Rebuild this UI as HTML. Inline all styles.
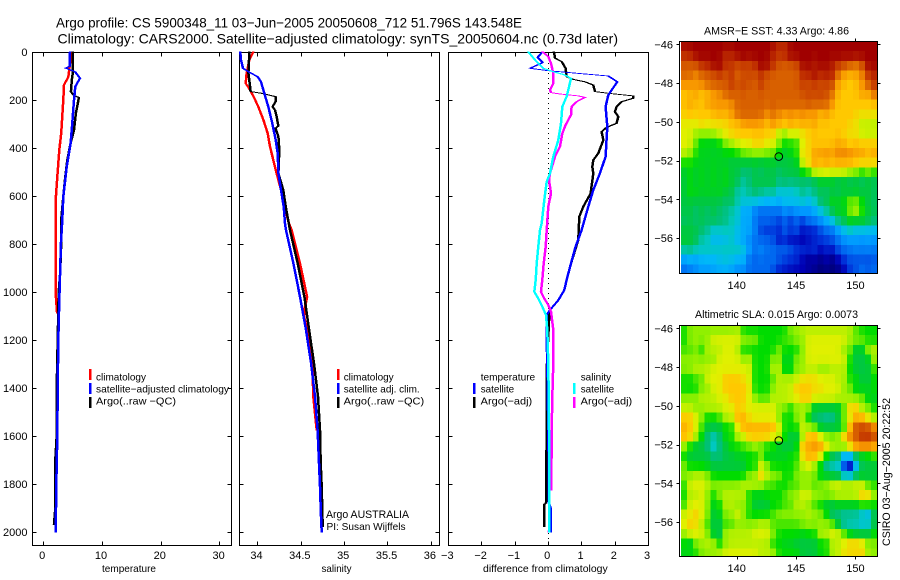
<!DOCTYPE html>
<html>
<head>
<meta charset="utf-8">
<title>Argo profile chart</title>
<style>
html,body{margin:0;padding:0;background:#fff;}
#chart{display:block;width:900px;height:580px;}
text{font-family:"Liberation Sans",sans-serif;fill:#000;}
</style>
</head>
<body>
<svg id="chart" xmlns="http://www.w3.org/2000/svg" width="900" height="580" viewBox="0 0 900 580">
<rect x="0" y="0" width="900" height="580" fill="#fff"/>
<text x="56" y="27.7" font-size="14" textLength="466" lengthAdjust="spacingAndGlyphs">Argo profile: CS 5900348_11 03−Jun−2005 20050608_712 51.796S 143.548E</text>
<text x="57.5" y="43.3" font-size="14" textLength="560.5" lengthAdjust="spacingAndGlyphs">Climatology: CARS2000. Satellite−adjusted climatology: synTS_20050604.nc (0.73d later)</text>
<text x="704" y="34.5" font-size="11" textLength="145" lengthAdjust="spacingAndGlyphs">AMSR−E SST: 4.33 Argo: 4.86</text>
<text x="695" y="318" font-size="11" textLength="163" lengthAdjust="spacingAndGlyphs">Altimetric SLA: 0.015 Argo: 0.0073</text>
<text transform="translate(890,546) rotate(-90)" font-size="11" textLength="148" lengthAdjust="spacingAndGlyphs">CSIRO 03−Aug−2005 20:22:52</text>
<text x="326" y="518" font-size="11" textLength="83" lengthAdjust="spacingAndGlyphs">Argo AUSTRALIA</text>
<text x="326.5" y="530" font-size="10.5" textLength="79" lengthAdjust="spacingAndGlyphs">PI: Susan Wijffels</text>
</svg>
<script>
// ---- axis tick data ----
const depthTicks = [0,200,400,600,800,1000,1200,1400,1600,1800,2000];
const tempTicks = [0,10,20,30];
const salTicks = [34,34.5,35,35.5,36];
const salTickLabels = ['34','34.5','35','35.5','36'];
const diffTicks = [-3,-2,-1,0,1,2,3];
const lonTicks = [140,145,150];
const latTicks = [-46,-48,-50,-52,-54,-56];

// ---- temperature panel ----
const tempClimDepth = [0,47,104,137,200,339,408,520,603,690,1020,1088];
const tempClimValue = [4.9,4.6,4.3,3.57,3.45,3.1,2.77,2.43,2.2,2.2,2.2,2.4];
const tempSatDepth = [0,60,67,82,109,144,200,311,380,479,603,700,800,1033,1200,1400,1600,1800,2000];
const tempSatValue = [4.6,4.5,3.86,5.44,6.3,5.5,5.27,4.93,4.7,4.03,3.45,3.28,3.05,2.77,2.6,2.5,2.44,2.27,2.16];
const tempArgoDepth = [0,90,117,165,180,190,255,325,380,450,520,603,700,800,925,1000,1200,1400,1600,1700,1900,1970];
const tempArgoValue = [5.05,5.05,4.9,4.75,5.2,6.1,5.6,5.27,4.7,4.13,3.8,3.45,3.1,3.1,2.9,2.67,2.5,2.33,2.33,2.1,2.1,1.87];

// ---- salinity panel ----
const salClimDepth = [0,33,89,131,158,193,228,283,339,394,450,506,533,575,644,714,742,881,1020,1049,1075,1103,1158,1297,1436,1575];
const salClimValue = [33.954,33.908,33.877,33.866,33.916,33.966,34.012,34.07,34.12,34.147,34.185,34.223,34.243,34.273,34.312,34.366,34.397,34.493,34.574,34.558,34.539,34.54,34.577,34.635,34.646,34.685];
const salSatDepth = [0,33,68,82,103,124,172,228,297,367,422,506,575,644,714,742,881,1020,1158,1297,1436,1575,1714,1811,1936,2000];
const salSatValue = [33.804,33.812,33.835,33.897,34.004,34.043,34.081,34.127,34.173,34.212,34.235,34.243,34.273,34.304,34.32,34.331,34.416,34.493,34.562,34.62,34.666,34.696,34.712,34.723,34.735,34.743];
const salArgoDepth = [0,33,89,131,165,172,186,207,228,242,269,308,318,353,408,506,575,644,742,881,1020,1158,1297,1436,1575,1714,1811,1978];
const salArgoValue = [33.904,33.904,33.897,33.912,33.923,34.05,34.21,34.21,34.177,34.204,34.223,34.243,34.21,34.243,34.254,34.243,34.30,34.327,34.377,34.466,34.543,34.597,34.654,34.70,34.723,34.731,34.743,34.754];

// ---- difference panel ----
const diffTempSatDepth = [0,22,44,68,78,89,100,124,179,228,311,436,506,575,644,742,811,881,950,992,1034,1075,1096,1200,1297,1575,1880,1900,2000];
const diffTempSatValue = [-0.17,-0.31,-0.16,-0.54,0.01,0.91,1.81,2.08,1.81,1.73,1.78,1.73,1.56,1.36,1.21,1.01,0.83,0.69,0.56,0.49,0.31,0.06,-0.04,-0.04,-0.02,0.01,0.03,0.08,0.08];
const diffTempArgoDepth = [0,26,40,68,103,114,124,138,165,172,183,193,207,228,249,269,297,314,332,367,422,450,478,506,589,644,686,783,881,950,992,1034,1075,1096,1297,1575,1880,1885,1978];
const diffTempArgoValue = [0.18,0.21,0.41,0.53,0.56,0.76,1.11,1.36,1.41,1.81,2.56,2.56,2.21,2.06,2.01,2.11,2.06,1.76,1.61,1.66,1.51,1.36,1.33,1.36,1.28,1.06,0.94,0.91,0.69,0.56,0.49,0.31,0.06,0.04,-0.03,-0.04,-0.06,-0.11,-0.11];
const diffSalArgoDepth = [0,19,47,89,131,158,169,175,183,189,207,228,262,304,339,394,436,506,533,589,644,742,811,881,950,999,1027,1054,1082,1158,1297,1436,1575,1825,1826,2000];
const diffSalArgoValue = [-0.16,0.01,0.09,0.16,0.16,0.06,0.09,0.36,0.91,1.11,0.86,0.71,0.69,0.53,0.43,0.36,0.21,0.06,0.03,0.09,0.01,-0.04,-0.07,-0.13,-0.17,-0.21,-0.11,0.01,0.09,0.16,0.16,0.13,0.11,0.10,0.04,0.03];
const diffSalSatDepth = [0,33,68,82,96,110,158,186,228,297,367,436,506,540,617,714,742,811,881,950,999,1027,1061,1096,1158,1297,1436,1575,2000];
const diffSalSatValue = [-0.59,-0.39,-0.14,0.16,0.51,0.69,0.61,0.56,0.43,0.39,0.31,0.16,0.06,-0.04,-0.11,-0.19,-0.24,-0.29,-0.34,-0.37,-0.41,-0.29,-0.17,-0.06,-0.02,0.01,0.02,0.03,0.04];

// ---- maps ----
const sstFloat = [143.548,-51.796];
const sstGrid = [
[16,16,16,16,16,16,16,16,16,16,16,16,16,16,16,16,15,15,16,16,16,16,16,16,16,16,16,16,16,16,16,16,16],
[15,15,16,16,16,16,16,15,15,16,16,16,16,16,16,15,15,15,16,16,16,16,16,16,16,16,16,16,16,16,16,16,16],
[14,14,14,15,15,16,16,15,15,14,15,14,15,16,16,15,14,14,14,14,16,16,15,16,16,15,15,14,14,13,14,16,16],
[14,14,13,14,14,14,15,14,15,14,14,15,14,15,14,14,14,14,14,14,15,15,16,15,15,16,13,13,12,13,13,15,15],
[13,13,13,13,14,14,14,14,15,14,15,14,14,15,14,14,14,14,14,14,15,14,15,14,15,14,13,12,12,12,13,14,15],
[12,12,13,12,12,13,13,14,14,14,14,14,14,14,14,14,14,14,14,14,14,15,14,15,14,14,12,12,12,12,13,12,14],
[12,13,12,12,13,13,13,13,13,14,14,14,14,14,14,14,14,14,14,14,14,14,14,14,14,13,12,12,12,12,12,12,12],
[12,12,12,12,12,12,13,12,13,14,14,14,14,14,13,14,13,13,13,13,13,13,13,12,13,12,12,12,12,12,11,12,11],
[11,11,11,12,11,12,11,12,12,12,13,13,13,13,12,13,13,12,13,12,13,12,13,12,12,12,12,12,12,11,11,10,11],
[11,11,10,10,10,10,11,11,12,12,12,12,12,12,12,12,10,10,11,11,11,12,12,12,12,12,12,12,11,12,10,11,10],
[11,11,10,8,9,8,9,10,10,11,11,11,12,12,11,11,10,9,9,9,11,12,12,12,12,12,13,12,12,12,12,12,12],
[11,10,9,9,8,9,8,9,9,9,10,10,10,10,10,10,9,8,9,9,12,11,13,13,13,13,13,14,13,13,13,12,13],
[9,9,9,8,9,8,9,8,8,8,8,8,8,8,8,8,8,8,8,8,11,12,13,12,13,12,13,12,13,12,12,12,12],
[8,9,8,9,8,9,8,9,8,8,7,7,8,7,8,8,7,8,8,8,9,9,11,11,11,11,11,11,10,10,9,10,9],
[8,9,8,9,8,9,8,9,8,8,6,7,8,8,8,8,7,7,7,7,7,7,7,8,8,8,7,8,7,8,7,8,7],
[8,9,9,8,9,8,9,8,8,6,6,7,7,7,6,7,5,6,5,6,7,6,7,8,7,8,8,8,8,8,8,8,8],
[8,8,8,8,8,8,8,7,8,6,6,5,6,5,5,5,5,5,6,5,6,5,6,7,8,9,8,9,10,10,9,8,7],
[8,8,7,8,7,8,7,7,6,6,4,5,3,3,3,3,3,4,3,4,4,4,4,6,6,8,9,8,10,11,9,8,8],
[7,8,7,8,7,8,7,7,6,6,4,5,3,3,3,3,2,3,2,3,2,3,4,3,5,5,7,8,9,8,9,8,7],
[8,8,8,7,7,5,6,6,6,5,5,4,4,2,2,2,2,3,2,3,1,2,1,3,3,3,4,5,6,5,5,5,5],
[9,8,8,6,6,5,5,5,6,5,4,4,3,3,3,3,1,2,1,1,1,1,2,2,2,3,3,4,4,4,4,4,4],
[6,7,6,6,6,6,6,6,6,6,6,4,3,4,3,3,3,3,3,2,2,2,2,1,2,1,3,3,3,4,3,4,3],
[4,5,4,5,5,5,5,6,5,5,5,3,3,3,3,3,3,2,2,2,1,0,1,0,1,0,1,2,3,2,3,2,3],
[3,3,4,4,4,4,5,4,5,3,4,3,3,3,3,3,1,2,1,1,1,1,0,0,0,0,0,1,2,3,3,3,3]
];
const slaGrid = [
[9,10,10,10,10,10,10,10,10,10.5,9,9,9,9,9,9,9,9,10,10,10.5,10.5,10.5,10.5,10.5,10.5,10.5,10.5,10.5,9.5,9,9,9],
[9,10,10,10,10,11,11,11,11,11,10,10,10,9,9,9,9,9.5,9.5,10,10,11,11,11,11,11,11,11,10,10,10,9,9],
[9.5,9.5,10,9,10.5,10.5,10.5,11,11,10.5,9,9,9,9,9,9,10,9,9,9,10,11,11,11,11,11,11,10,10,8,8,10.5,10.5],
[10,10,10,10,10,10,11,11,11,11,10,10.5,9,9,9,10,10,8.5,8.5,10,10,11,11,11,11,11,11,11,9,8,8,8,10.5],
[10,10,10.5,10.5,10.5,11,11,11,11,11,11,11,9,9,9,10.5,10.5,8.5,8.5,10,10,10.5,10.5,10,10,10.5,10.5,10.5,9,8,8,8,9.5],
[9,9,9.5,9.5,11,11,11,12,12,12,11.5,11,9,9,9,9.5,10.5,10.5,10.5,10.5,11.5,11.5,11.5,11,11,11,10.5,10.5,9,9,8,8,9],
[9,9,9,10,10,11,11,12,12,12,12,11.5,9,9,9,10,10.5,10.5,10.5,12,12,12,11.5,11.5,11,11,11,10,10,8.5,8.5,8.5,9],
[10,10,10,10.5,10.5,10.5,11,11,12,12,12,11,10,9.5,9.5,10.5,10.5,10.5,11,11,12,12,11,11,11,11,10.5,10.5,10,10,10,8.5,8.5],
[10.5,10.5,10,10,10.5,10.5,10.5,11,11,12,11.5,11,11,11,11,11,10,10,9,10,10,10,8,8,8,8,8,9.5,12,12,10,10,9],
[12,12,11,10,9,9,9.5,10.5,10.5,12.5,12.5,11.5,11,11,11,11,10,9,9,10,10.5,9,7,7,6.5,6.5,8,10,11,12.5,12.5,11,10],
[12.5,12,11,9.5,8,8,8,9,9,11,12.5,12.5,12.5,12.5,12.5,12.5,11,9,9,9,11,10,10,8,8,8,8,9,12.5,14.5,14.5,14.5,13.5],
[12.5,12,10.5,9,7,6,7,9,9,10.5,10.5,12,12,12,12,11,11,9,8,8,10,12.5,12.5,11,10,10,10,12,13.5,14,15,15,14.5],
[10,9,8,8,7,5.5,7,8,9,9,9.5,9.5,10,9.5,9,9,8,8,8,8.5,12.5,12.5,13,13,11.5,10.5,10.5,10.5,12,13.5,13.5,13.5,13],
[9,8,8,8,8,7,7,8,8,8.5,8.5,9,9,10,8.5,8.5,8.5,8.5,9,9,11.5,12.5,12.5,11,9,7.5,7,4.5,4.5,7,8,8.5,9],
[10,9,9,9,8.5,8,8,8,8,8,8,9,9,11,10,9,9,9,9,9.5,10.5,11,10,9,6,6,6,2,0,5,8,8,8],
[10,10,10.5,10.5,10,9,9,9,9,9,9,10,10,12,10.5,10,10,9,9,10,10,10,10,8.5,8.5,8,8,5.5,5.5,7.5,8,8,8],
[9,11,11,11,10.5,10,10,10,10,10,10.5,10.5,10.5,10,9.5,9.5,9,9,9.5,9.5,10,10,9.5,10,10,11,11,11,11,11,11,9.5,9.5],
[9,10.5,10.5,11,10,9,10,10.5,10.5,10.5,10.5,9,8.5,8.5,9,9,9,9.5,10,10,11,11,10,10,10,10,10.5,10.5,10.5,10.5,12,12,10],
[9,11,11,11,10,8.5,9,10.5,10.5,10,10,9.5,8,8,8,9,9,9.5,9.5,10.5,10.5,10,9.5,9,8,8,8.5,8.5,8.5,8.5,9.5,9.5,9],
[11,11,12,11,10,8,8.5,10,10,11,10,9,9,9,9,9.5,10,10,10,10,10,10.5,10,10,9,7,7,6.5,6.5,6.5,5.5,4.5,8],
[11,12,11.5,10.5,9.5,8,8,9.5,9.5,10,10,10,10,10.5,10.5,9.5,9.5,9.5,9.5,9.5,10,10,10,10,10,10,8,6,6,6,5.5,5.5,8],
[10,11,11,11,10,8,7.5,10.5,10.5,10.5,10.5,10.5,11,11,11,10,9,9,9,9,8.5,9,9,10.5,10.5,11,11,10,8.5,8,8,8,9],
[9,8,10,10,10.5,10.5,9,10,10.5,10.5,10.5,10.5,10.5,10.5,10.5,9,9,8.5,8.5,8,8,8,8,9,9,10.5,10.5,11,12,12,11.5,10,10],
[8.5,9,9,10,10,10,10.5,11,11,11,11,11,11,10.5,10.5,10.5,9,9,9,9,8,8,8,9,9,10.5,10.5,11.5,11.5,11.5,12,10,10]
];
const colourStops = ['#000080','#0000b4','#0030d8','#0068f0','#0098ff','#00b8f8','#00c8c0','#00c078','#00c840','#00dc00','#90f000','#e0f000','#ffc800','#f89800','#d86000','#c03000','#a00000'];

const svg = document.getElementById('chart');
const NS = 'http://www.w3.org/2000/svg';
const BLUE='#0000ff', RED='#ff0000', BLACK='#000000', CYAN='#00ffff', MAGENTA='#ff00ff';

function make(tag, attrs, parent) {
  const e = document.createElementNS(NS, tag);
  for (const k in attrs) e.setAttribute(k, attrs[k]);
  (parent || svg).appendChild(e);
  return e;
}
function label(str, x, y, anchor, size, name, width) {
  const attrs = {x:x, y:y, 'font-size':size, 'text-anchor':anchor};
  if (width) { attrs.textLength = width; attrs.lengthAdjust = 'spacingAndGlyphs'; }
  const el = make('text', attrs);
  el.textContent = str;
  
  
  return el;
}
function fmtTick(v) { return String(v).replace('-', '\u2212'); }

const depthY = d => 52 + 0.24 * d;
const tempX = v => 43 + 5.88 * v;
const salX = v => 257.3 + 86.7 * (v - 34);
const diffX = v => 548 + 33.3 * v;
const lonX = v => 736.7 + 11.87 * (v - 140);

// profile lines use a horizontal pen: near-vertical runs are thick, near-horizontal runs are thin
function profile(depths, values, xFn, colour, name) {
  const half = 0.9;
  const fwd = depths.map((d, i) => (xFn(values[i]) - half).toFixed(1) + ',' + depthY(d).toFixed(1));
  const back = depths.map((d, i) => (xFn(values[i]) + half).toFixed(1) + ',' + depthY(d).toFixed(1)).reverse();
  const el = make('polygon', {points:fwd.concat(back).join(' '), fill:colour, stroke:colour, 'stroke-width':0.7, 'shape-rendering':'crispEdges'});
  
  
}
function tick(x1, y1, x2, y2, name) {
  const el = make('line', {x1:x1, y1:y1, x2:x2, y2:y2, stroke:'#000', 'stroke-width':1, 'shape-rendering':'crispEdges'});
  
  
}
function frame(l, t, r, b, name) {
  const el = make('rect', {x:l, y:t, width:r - l, height:b - t, fill:'none', stroke:'#000', 'stroke-width':1, 'shape-rendering':'crispEdges'});
  
  
}
function legendKey(x, y, colour, name) {
  const el = make('rect', {x:x - 1, y:y, width:2.4, height:11, fill:colour, 'shape-rendering':'crispEdges'});
  
  
}
function panelAxes(l, r, xFn, xTicks, xLabels, prefix, showDepth) {
  const t = 52.5, b = 545.5;
  frame(l, t, r, b, prefix + '-frame');
  depthTicks.forEach(d => {
    const y = Math.round(depthY(d)) + 0.5;
    if (d > 0) {
      tick(l, y, l + 4, y, prefix + '-depth-tick');
      tick(r - 4, y, r, y, prefix + '-depth-tick');
    }
    if (showDepth) label(String(d), 27.5, depthY(d) + 4, 'end', 11, 'depth-tick-label');
  });
  xTicks.forEach((v, i) => {
    const x = Math.round(xFn(v)) + 0.5;
    if (x > l + 1 && x < r - 1) {
      tick(x, b - 4, x, b, prefix + '-x-tick');
      tick(x, t, x, t + 4, prefix + '-x-tick');
    }
    label(xLabels[i], xFn(v) - 0.8, 559, 'middle', 11, prefix + '-x-tick-label');
  });
}

// temperature panel
panelAxes(32.5, 231.5, tempX, tempTicks, tempTicks.map(String), 'temperature', true);
profile(tempClimDepth, tempClimValue, tempX, RED, 'temperature-climatology-line');
profile(tempArgoDepth, tempArgoValue, tempX, BLACK, 'temperature-argo-line');
profile(tempSatDepth, tempSatValue, tempX, BLUE, 'temperature-satellite-line');
label('temperature', 102, 572, 'start', 10.5, 'temperature-axis-title', 54);
legendKey(90, 369, RED, 'legend-key-climatology');
legendKey(90, 383, BLUE, 'legend-key-satellite-climatology');
legendKey(90, 397, BLACK, 'legend-key-argo');
label('climatology', 96, 380.5, 'start', 10.5, 'legend-climatology', 50);
label('satellite\u2212adjusted climatology', 96, 392.5, 'start', 10.5, 'legend-satellite-climatology', 133);
label('Argo(..raw \u2212QC)', 96, 404.5, 'start', 10.5, 'legend-argo', 80);

// salinity panel
panelAxes(239.5, 439.5, salX, salTicks, salTickLabels, 'salinity', false);
profile(salClimDepth, salClimValue, salX, RED, 'salinity-climatology-line');
profile(salArgoDepth, salArgoValue, salX, BLACK, 'salinity-argo-line');
profile(salSatDepth, salSatValue, salX, BLUE, 'salinity-satellite-line');
label('salinity', 321.5, 572, 'start', 10.5, 'salinity-axis-title', 30);
legendKey(338, 369, RED, 'legend-key-salinity-climatology');
legendKey(338, 383, BLUE, 'legend-key-salinity-satellite');
legendKey(338, 397, BLACK, 'legend-key-salinity-argo');
label('climatology', 343.7, 380.5, 'start', 10.5, 'legend-salinity-climatology', 50);
label('satellite adj. clim.', 343.7, 392.5, 'start', 10.5, 'legend-salinity-satellite', 76);
label('Argo(..raw \u2212QC)', 343.7, 404.5, 'start', 10.5, 'legend-salinity-argo', 80.5);

// difference panel
panelAxes(448.5, 648.5, diffX, diffTicks, diffTicks.map(fmtTick), 'difference', false);
const zeroLine = make('line', {x1:548.5, y1:53, x2:548.5, y2:545, stroke:'#000', 'stroke-width':1, 'stroke-dasharray':'1 4', 'shape-rendering':'crispEdges'});


profile(diffTempArgoDepth, diffTempArgoValue, diffX, BLACK, 'difference-temperature-argo-line');
profile(diffTempSatDepth, diffTempSatValue, diffX, BLUE, 'difference-temperature-satellite-line');
profile(diffSalArgoDepth, diffSalArgoValue, diffX, MAGENTA, 'difference-salinity-argo-line');
profile(diffSalSatDepth, diffSalSatValue, diffX, CYAN, 'difference-salinity-satellite-line');
label('difference from climatology', 483, 572, 'start', 10.5, 'difference-axis-title', 124.7);
label('temperature', 480.7, 380.5, 'start', 10.5, 'legend-temperature-heading', 54.5);
label('satellite', 480.7, 392.5, 'start', 10.5, 'legend-temperature-satellite', 33.5);
label('Argo(\u2212adj)', 480.7, 404.5, 'start', 10.5, 'legend-temperature-argo', 51.5);
legendKey(474, 383, BLUE, 'legend-key-temperature-satellite');
legendKey(474, 397, BLACK, 'legend-key-temperature-argo');
label('salinity', 580.7, 380.5, 'start', 10.5, 'legend-salinity-heading', 30.5);
label('satellite', 580.7, 392.5, 'start', 10.5, 'legend-salinity-difference-satellite', 33.5);
label('Argo(\u2212adj)', 580.7, 404.5, 'start', 10.5, 'legend-salinity-difference-argo', 51.5);
legendKey(574, 383, CYAN, 'legend-key-salinity-difference-satellite');
legendKey(574, 397, MAGENTA, 'legend-key-salinity-difference-argo');

// colour scale
function hexToRgb(h) { return [1, 3, 5].map(i => parseInt(h.substr(i, 2), 16)); }
function colourFor(v) {
  const c = Math.max(0, Math.min(colourStops.length - 1, v));
  const i = Math.floor(c), f = c - i;
  const a = hexToRgb(colourStops[i]), b = hexToRgb(colourStops[Math.min(i + 1, colourStops.length - 1)]);
  return 'rgb(' + a.map((q, k) => Math.round(q + (b[k] - q) * f)).join(',') + ')';
}
// light neighbour blend: the field is continuous, the hand-read grid is coarse
function blended(grid, r, c, keep) {
  const nb = [[r - 1, c], [r + 1, c], [r, c - 1], [r, c + 1]]
    .filter(p => grid[p[0]] && grid[p[0]][p[1]] !== undefined)
    .map(p => grid[p[0]][p[1]]);
  const mean = nb.reduce((s, v) => s + v, 0) / nb.length;
  return keep * grid[r][c] + (1 - keep) * mean;
}

function drawMap(grid, top, bottom, prefix, keep) {
  const left = 679.5, right = 877.5;
  const latY = v => top + 2.8 + 19.37 * (-46 - v);
  const lat0 = -46 + 2.8 / 19.37;
  const lon0 = 135.3;
  const group = make('g', {'shape-rendering':'crispEdges'});
  
  
  grid.forEach((row, r) => {
    row.forEach((v, c) => {
      const x1 = lonX(lon0 + c * 0.5), x2 = Math.min(lonX(lon0 + (c + 1) * 0.5) + 0.4, right);
      const y1 = latY(lat0 - r * 0.5), y2 = Math.min(latY(lat0 - (r + 1) * 0.5) + 0.4, bottom);
      const cell = make('rect', {x:x1.toFixed(2), y:y1.toFixed(2), width:(x2 - x1).toFixed(2), height:(y2 - y1).toFixed(2), fill:colourFor(blended(grid, r, c, keep))}, group);
      
      
    });
  });
  frame(left, top, right, bottom, prefix + '-frame');
  lonTicks.forEach(v => {
    const x = Math.round(lonX(v)) + 0.5;
    tick(x, top - 3, x, top, prefix + '-lon-tick');
    tick(x, bottom, x, bottom + 3, prefix + '-lon-tick');
    label(String(v), lonX(v), bottom + 15.5, 'middle', 11, prefix + '-lon-label');
  });
  latTicks.forEach(v => {
    const y = Math.round(latY(v)) + 0.5;
    tick(left - 3, y, left, y, prefix + '-lat-tick');
    tick(right, y, right + 3, y, prefix + '-lat-tick');
    label(fmtTick(v), 673, latY(v) + 4, 'end', 11, prefix + '-lat-label');
  });
  const marker = make('circle', {cx:lonX(sstFloat[0]).toFixed(1), cy:latY(sstFloat[1]).toFixed(1), r:3.8, fill:'none', stroke:'#000', 'stroke-width':1});
  
  
}
drawMap(sstGrid, 41.5, 273.5, 'sst-map', 0.45);
drawMap(slaGrid, 325.5, 556.5, 'sla-map', 0.6);
</script>
</body>
</html>
